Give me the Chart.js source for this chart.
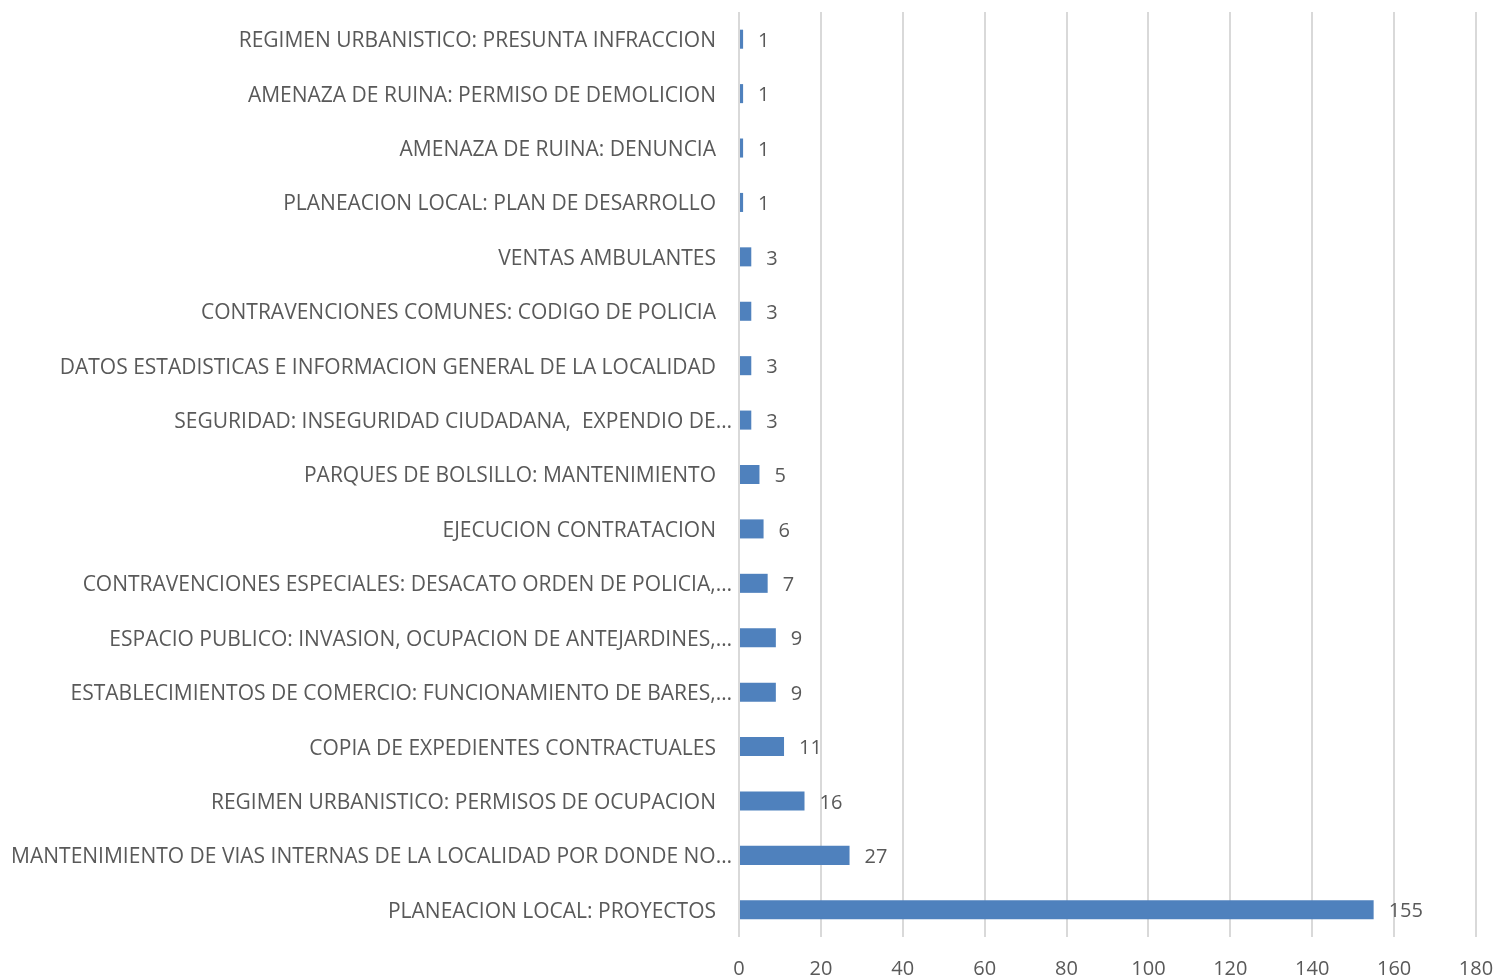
<!DOCTYPE html>
<html>
<head>
<meta charset="utf-8">
<script src="https://cdn.jsdelivr.net/npm/chart.js@4/dist/chart.umd.min.js"></script>
<style>
  html, body { margin: 0; padding: 0; background: #fff; }
  #wrap { width: 1497px; height: 980px; }
</style>
</head>
<body>
<div id="wrap"><canvas id="chart" width="1497" height="980"></canvas></div>
<script>
const categories = [
  'REGIMEN URBANISTICO: PRESUNTA INFRACCION',
  'AMENAZA DE RUINA: PERMISO DE DEMOLICION',
  'AMENAZA DE RUINA: DENUNCIA',
  'PLANEACION LOCAL: PLAN DE DESARROLLO',
  'VENTAS AMBULANTES',
  'CONTRAVENCIONES COMUNES: CODIGO DE POLICIA',
  'DATOS ESTADISTICAS E INFORMACION GENERAL DE LA LOCALIDAD',
  'SEGURIDAD: INSEGURIDAD CIUDADANA,  EXPENDIO DE…',
  'PARQUES DE BOLSILLO: MANTENIMIENTO',
  'EJECUCION CONTRATACION',
  'CONTRAVENCIONES ESPECIALES: DESACATO ORDEN DE POLICIA,…',
  'ESPACIO PUBLICO: INVASION, OCUPACION DE ANTEJARDINES,…',
  'ESTABLECIMIENTOS DE COMERCIO: FUNCIONAMIENTO DE BARES,…',
  'COPIA DE EXPEDIENTES CONTRACTUALES',
  'REGIMEN URBANISTICO: PERMISOS DE OCUPACION',
  'MANTENIMIENTO DE VIAS INTERNAS DE LA LOCALIDAD POR DONDE NO…',
  'PLANEACION LOCAL: PROYECTOS'
]
const counts = [1, 1, 1, 1, 3, 3, 3, 3, 5, 6, 7, 9, 9, 11, 16, 27, 155]
const xMin = 0
const xMax = 180
const xStep = 20

const TEXT = '#595959'
const FONT = "'Open Sans', 'DejaVu Sans', sans-serif"

// category names: right aligned, truncated ones let the ellipsis hang past the edge
const categoryLabels = {
  id: 'categoryLabels',
  afterDraw(chart) {
    const ctx = chart.ctx
    const y = chart.scales.y
    ctx.save()
    ctx.fillStyle = TEXT
    ctx.font = '21px ' + FONT
    ctx.textAlign = 'right'
    ctx.textBaseline = 'middle'
    categories.forEach(function(name, i) {
      var right = chart.chartArea.left - 23
      if (name.endsWith('…')) right += 16
      ctx.fillText(name, right, y.getPixelForValue(i) + 2)
    })
    ctx.restore()
  }
}

// draws the value next to the end of each bar
const valueLabels = {
  id: 'valueLabels',
  afterDatasetsDraw(chart) {
    const ctx = chart.ctx
    const meta = chart.getDatasetMeta(0)
    ctx.save()
    ctx.fillStyle = TEXT
    ctx.font = '20px ' + FONT
    ctx.textAlign = 'left'
    ctx.textBaseline = 'middle'
    meta.data.forEach(function(bar, i) {
      ctx.fillText(String(counts[i]), bar.x + 15, bar.y + 2)
    })
    ctx.restore()
  }
}

new Chart(document.getElementById('chart'), {
  type: 'bar',
  data: {
    labels: categories,
    datasets: [{
      data: counts,
      backgroundColor: '#4F81BD',
      borderWidth: 0,
      barPercentage: 0.7,
      categoryPercentage: 0.5
    }]
  },
  options: {
    indexAxis: 'y',
    responsive: false,
    animation: false,
    devicePixelRatio: 1,
    layout: { autoPadding: false, padding: { top: 12, right: 21, left: 0, bottom: 0 } },
    plugins: {
      legend: { display: false },
      tooltip: { enabled: false }
    },
    scales: {
      x: {
        min: xMin,
        max: xMax,
        ticks: {
          stepSize: xStep,
          color: TEXT,
          font: { family: FONT, size: 20 },
          padding: 20
        },
        grid: {
          color: '#D9D9D9',
          lineWidth: 2,
          drawTicks: false
        },
        border: { display: false },
        afterFit(scale) {
          // the "180" label may hang over the right edge like in the original
          scale.paddingLeft = 0
          scale.paddingRight = 0
          scale.height = 43
        }
      },
      y: {
        ticks: { display: false },
        grid: { display: false },
        border: { display: false },
        afterFit(scale) { scale.width = 739 }
      }
    }
  },
  plugins: [valueLabels, categoryLabels]
})
</script>
</body>
</html>
